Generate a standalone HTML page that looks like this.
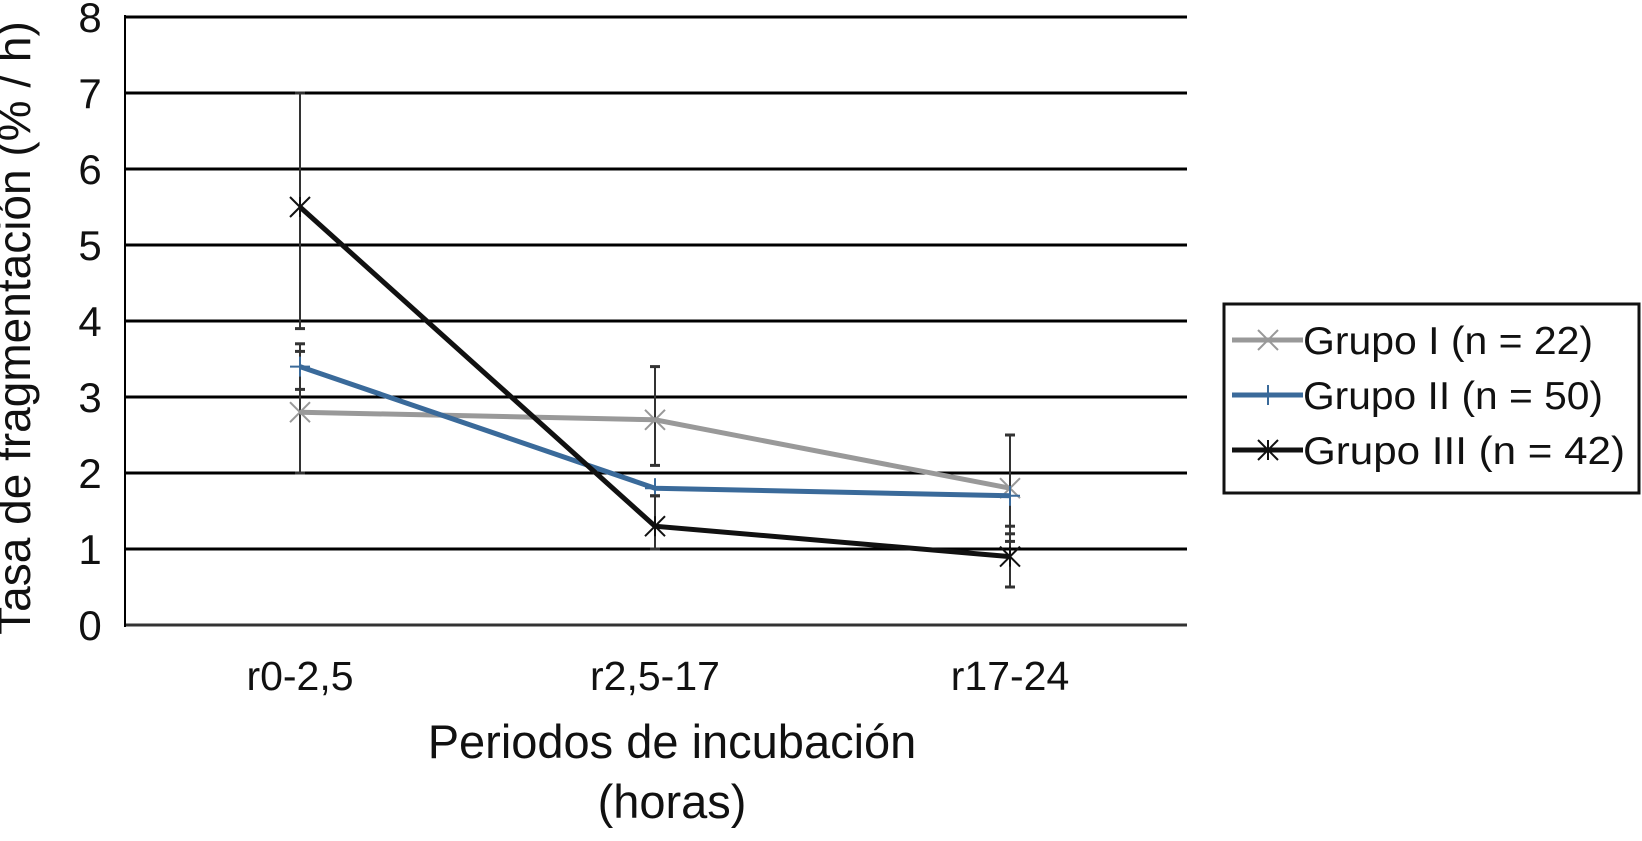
<!DOCTYPE html>
<html><head><meta charset="utf-8"><style>
body{margin:0;background:#fff;}
svg{display:block;font-family:"Liberation Sans",sans-serif;}
</style></head><body>
<svg id="chart" width="1642" height="841" viewBox="0 0 1642 841">
<g id="grid"></g><g id="series"></g><g id="labels"></g>
<g>
<rect x="1224" y="304" width="415" height="189" fill="#fff" stroke="#111" stroke-width="3"/>
<g id="legend"></g>
</g>
<text x="30" y="328" transform="rotate(-90 30 328)" text-anchor="middle" font-size="46" fill="#111">Tasa de fragmentación (% / h)</text>
<text x="672" y="758" text-anchor="middle" font-size="47" fill="#111">Periodos de incubación</text>
<text x="672" y="818" text-anchor="middle" font-size="47" fill="#111">(horas)</text>
</svg>
<script>
const categories=["r0-2,5","r2,5-17","r17-24"];
const yTicks=[0,1,2,3,4,5,6,7,8];
const seriesNames=["Grupo I (n = 22)","Grupo II (n = 50)","Grupo III (n = 42)"];
const g1=[2.8,2.7,1.8];
const g2=[3.4,1.8,1.7];
const g3=[5.5,1.3,0.9];
const g1Lo=[2.0,2.1,1.1];
const g1Hi=[3.6,3.4,2.5];
const g2Lo=[3.1,1.0,1.2];
const g2Hi=[3.7,1.7,2.5];
const g3Lo=[3.9,1.0,0.5];
const g3Hi=[7.0,1.7,1.3];
const NS="http://www.w3.org/2000/svg";
const y=v=>625-v*76;
const x=i=>300+i*355;
function mk(p,t,a){const e=document.createElementNS(NS,t);for(const k in a)e.setAttribute(k,a[k]);p.appendChild(e);return e;}
const grid=document.getElementById('grid'),ser=document.getElementById('series'),lab=document.getElementById('labels'),leg=document.getElementById('legend');
yTicks.forEach(v=>{
 const l=mk(grid,'line',{x1:125,x2:1187,y1:y(v),y2:y(v),stroke:v===0?'#333':'#000','stroke-width':3});
 
 
 const t=mk(lab,'text',{x:90,y:y(v)+15,'text-anchor':'middle','font-size':42,fill:'#111'});t.textContent=v;
 
 
});
const ax=mk(grid,'line',{x1:125,x2:125,y1:y(8)-2,y2:y(0)+2,stroke:'#000','stroke-width':2});


categories.forEach((c,i)=>{const t=mk(lab,'text',{x:x(i),y:690,'text-anchor':'middle','font-size':41,fill:'#111'});t.textContent=c;
 
 });
const S=[{d:g1,lo:g1Lo,hi:g1Hi,c:'#999',m:'x'},{d:g2,lo:g2Lo,hi:g2Hi,c:'#3a6a9a',m:'+'},{d:g3,lo:g3Lo,hi:g3Hi,c:'#111',m:'*'}];
function marker(p,cx,cy,m,c){
 const s=10;
 if(m!=='+'){mk(p,'line',{x1:cx-s,y1:cy-s,x2:cx+s,y2:cy+s,stroke:c,'stroke-width':2});mk(p,'line',{x1:cx-s,y1:cy+s,x2:cx+s,y2:cy-s,stroke:c,'stroke-width':2});}
 if(m!=='x'){mk(p,'line',{x1:cx,y1:cy-s,x2:cx,y2:cy+s,stroke:c,'stroke-width':2});}
 if(m==='+'){mk(p,'line',{x1:cx-s,y1:cy,x2:cx+s,y2:cy,stroke:c,'stroke-width':2});}
}
S.forEach((s,k)=>{
 const g=mk(ser,'g',{});
 
 
 s.d.forEach((v,i)=>{
  const e=mk(g,'g',{});
  
  
  mk(e,'line',{x1:x(i),x2:x(i),y1:y(s.lo[i]),y2:y(s.hi[i]),stroke:'#333','stroke-width':2});
  mk(e,'line',{x1:x(i)-5,x2:x(i)+5,y1:y(s.lo[i]),y2:y(s.lo[i]),stroke:'#333','stroke-width':3});
  mk(e,'line',{x1:x(i)-5,x2:x(i)+5,y1:y(s.hi[i]),y2:y(s.hi[i]),stroke:'#333','stroke-width':3});
 });
 const pl=mk(g,'polyline',{points:s.d.map((v,i)=>x(i)+','+y(v)).join(' '),fill:'none',stroke:s.c,'stroke-width':5});
 
 
 s.d.forEach((v,i)=>marker(g,x(i),y(v),s.m,s.c));
 const ly=340+k*55;
 const le=mk(leg,'g',{});
 
 
 mk(le,'line',{x1:1232,x2:1303,y1:ly,y2:ly,stroke:s.c,'stroke-width':5});
 marker(le,1268,ly,s.m,s.c);
 const t=mk(le,'text',{x:1303,y:ly+14,'font-size':39,fill:'#111',textLength:[290,300,322][k],lengthAdjust:'spacingAndGlyphs'});t.textContent=seriesNames[k];
});
</script>
</body></html>
